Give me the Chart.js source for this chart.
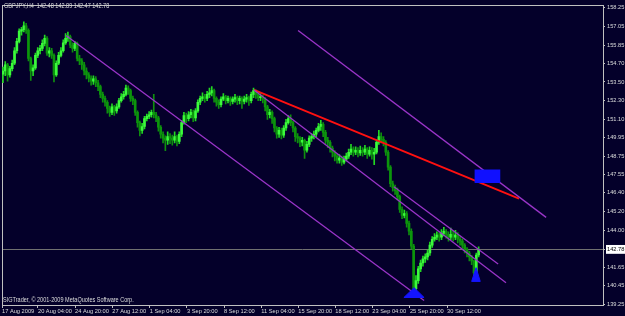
<!DOCTYPE html>
<html><head><meta charset="utf-8">
<script src="https://cdn.jsdelivr.net/npm/chart.js@4.4.1/dist/chart.umd.min.js"></script>
<style>
html,body{margin:0;padding:0;background:#04002a;overflow:hidden}
#wrap{position:relative;width:625px;height:316px}
canvas{display:block}
.t{position:absolute;color:#dcdcdc;font-size:6.6px;font-family:'Liberation Sans',sans-serif;white-space:pre;line-height:1;transform-origin:0 0;transform:scaleX(0.84)}
</style></head><body>
<div id="wrap"><canvas id="c" width="625" height="316"></canvas>
<div class="t" style="left:4px;top:3px">GBPJPY,H4  142.48 142.89 142.47 142.78</div>
<div class="t" style="left:3px;top:297px">SIGTrader, © 2001-2009 MetaQuotes Software Corp.</div>
</div>
<script>
// ---- data (H4 bars, GBPJPY) ----
const firstOpen = 154.0;
const closes = [
154.2,154.6,153.95,154.35,154.7,155.5,156.1,156.75,156.85,157.1,
156.8,155.0,154.2,154.4,155.2,155.5,155.65,155.97,156.3,155.35,
155.5,155.2,153.95,154.7,155.2,155.5,156.0,156.3,156.4,155.85,
155.65,155.97,155.0,154.85,154.6,154.2,153.95,153.75,153.55,153.7,
153.45,153.2,152.7,152.45,152.2,151.8,151.55,151.9,151.65,151.9,
152.3,152.55,152.7,153.1,152.95,152.45,152.3,151.55,150.9,150.4,
150.65,151.15,151.3,151.4,151.55,151.4,151.2,150.6,150.15,149.9,
149.77,150.0,149.9,149.77,150.0,149.7,150.15,150.9,151.35,151.15,
151.4,151.55,151.2,151.65,152.2,152.45,152.55,152.45,152.7,152.8,
152.95,152.45,152.2,152.05,152.4,152.55,152.3,152.45,152.25,152.4,
152.5,152.3,152.45,152.25,152.4,152.5,152.3,152.7,152.95,152.7,
152.5,152.55,152.4,151.9,151.4,151.55,151.15,150.55,150.15,150.4,
150.1,150.55,150.9,151.15,150.9,150.55,150.0,149.9,149.64,149.77,
149.13,149.5,149.9,150.0,150.15,150.4,150.65,150.78,150.27,149.77,
149.64,149.26,149.0,148.75,148.5,148.62,148.37,148.56,148.75,149.0,
149.2,149.0,149.13,148.95,149.13,149.0,149.2,148.88,149.13,148.88,
149.0,149.64,150.0,149.83,149.64,149.0,148.05,146.98,146.73,146.54,
146.16,145.34,144.96,145.08,144.45,143.94,142.99,140.27,140.78,141.53,
141.91,142.17,142.3,142.55,143.05,143.43,143.56,143.69,143.56,143.81,
143.94,143.75,143.56,143.75,143.56,143.69,143.43,143.31,143.05,142.8,
142.55,142.3,142.04,141.28,142.42,142.78];
const highs = [
154.45,154.8,154.7,154.5,154.9,155.7,156.3,156.9,157.0,157.35,
157.25,156.9,155.1,154.6,155.35,155.7,155.85,156.2,156.5,156.4,
155.7,155.65,155.3,154.85,155.4,155.7,156.2,156.6,156.7,156.5,
156.0,156.1,156.05,155.2,155.0,154.75,154.4,154.1,153.9,153.9,
153.85,153.6,153.3,152.85,152.6,152.3,151.95,152.1,152.0,152.1,
152.45,152.75,152.9,153.3,153.25,153.05,152.6,152.4,151.65,151.0,
150.85,151.3,151.45,151.6,151.7,152.7,151.55,151.3,150.7,150.3,
150.05,150.3,150.2,150.1,150.3,150.1,150.3,151.05,151.55,151.5,
151.6,151.75,151.7,151.8,152.35,152.6,152.8,152.7,152.9,153.1,
153.2,153.05,152.55,152.35,152.55,152.75,152.65,152.6,152.55,152.55,
152.7,152.6,152.6,152.55,152.6,152.7,152.6,152.85,153.1,153.0,
152.85,152.75,152.65,152.5,152.0,151.75,151.65,151.25,150.65,150.6,
150.55,150.7,151.1,151.35,151.4,151.0,150.65,150.2,150.0,149.95,
149.85,149.7,150.05,150.2,150.35,150.55,150.85,151.05,150.9,150.4,
149.95,149.75,149.4,149.1,148.9,148.85,148.75,148.75,148.95,149.2,
149.5,149.35,149.35,149.3,149.4,149.3,149.45,149.3,149.35,149.3,
149.25,149.8,150.4,150.25,150.0,149.75,149.1,148.15,147.15,146.9,
146.7,146.25,145.5,145.3,145.2,144.6,144.1,143.1,141.1,141.7,
142.1,142.35,142.5,142.75,143.25,143.6,143.8,143.9,143.85,144.05,
144.2,144.05,143.9,144.15,143.95,144.0,143.85,143.6,143.45,143.15,
142.9,142.65,142.4,142.1,142.55,142.95];
const lows = [
153.45,153.9,153.55,153.8,154.2,154.6,155.35,156.0,156.5,156.7,
156.6,154.85,153.6,153.9,154.3,155.05,155.3,155.5,155.8,155.2,
155.1,155.0,153.5,153.85,154.6,155.1,155.4,155.9,156.1,155.7,
155.4,155.5,154.85,154.6,154.3,153.95,153.7,153.5,153.3,153.35,
153.2,152.95,152.5,152.2,151.95,151.5,151.3,151.4,151.35,151.5,
151.8,152.2,152.4,152.6,152.7,152.25,152.05,151.35,150.6,150.05,
150.2,150.5,151.0,151.15,151.25,151.2,150.95,150.35,149.9,149.6,
149.1,149.5,149.55,149.45,149.6,149.4,149.55,150.0,150.8,150.9,
151.0,151.2,150.95,151.0,151.55,152.05,152.3,152.2,152.3,152.5,
152.6,152.2,151.95,151.8,151.9,152.3,152.1,152.15,152.0,152.1,
152.2,152.05,152.1,151.8,152.1,152.2,152.0,152.15,152.5,152.45,
152.3,152.3,152.15,151.65,151.1,151.2,150.85,150.3,149.9,149.95,
149.85,149.95,150.4,150.8,150.7,150.3,149.7,149.6,149.35,149.4,
148.6,149.0,149.35,149.7,149.85,150.0,150.3,150.4,150.0,149.5,
149.3,149.0,148.7,148.45,148.3,148.3,148.15,148.25,148.45,148.6,
148.85,148.75,148.85,148.7,148.8,148.75,148.85,148.6,148.75,148.55,
148.2,148.9,149.5,149.6,149.4,148.8,147.85,146.8,146.5,146.3,
145.95,145.15,144.75,144.8,144.2,143.7,142.8,140.0,140.1,140.6,
141.35,141.7,141.95,142.1,142.4,142.9,143.3,143.4,143.3,143.4,
143.65,143.5,143.3,143.4,143.3,143.4,143.2,143.05,142.85,142.55,
142.3,142.05,141.8,141.1,141.2,142.3];

// axis labels
const xTickPos = [-0.4,15.1,31.1,47.1,63.3,79.3,95.3,111.3,127.3,143.2,159.2,175.4,191.4];
const xTickLabels = ['17 Aug 2009','20 Aug 04:00','24 Aug 20:00','27 Aug 12:00','1 Sep 04:00','3 Sep 20:00','8 Sep 12:00','11 Sep 04:00','15 Sep 20:00','18 Sep 12:00','23 Sep 04:00','25 Sep 20:00','30 Sep 12:00'];
const yTicks = [158.25,157.05,155.85,154.70,153.50,152.30,151.10,149.95,148.75,147.55,146.40,145.20,144.00,142.78,141.65,140.45,139.25];
const currentPrice = 142.78;

// drawn objects (bar index, price)
const lowerChannelX = [27.2, 181.5],  lowerChannelY = [156.48, 139.51];
const upperChannelX = [127.2, 234.1], upperChannelY = [156.79, 144.83];
const midChannelAX = [108.2, 216.8],  midChannelAY = [152.99, 140.65];
const midChannelBX = [168.5, 213.4],  midChannelBY = [146.79, 141.85];
const redLineX = [108.2, 222.4],      redLineY = [152.99, 146.03];
const boxX = [203.4, 214.2],          boxY = [147.05, 147.87];
const arrow1X = [172.8, 177.2, 181.5, 172.8], arrow1Y = [139.70, 140.33, 139.70, 139.70];
const arrow2X = [202.0, 203.9, 205.7, 202.0], arrow2Y = [140.73, 141.61, 140.73, 140.73];

// ---- build ----
const opens = closes.map((c, i) => i === 0 ? firstOpen : closes[i - 1]);
const idx = closes.map((_, i) => i);
const isBull = i => closes[i] >= opens[i];
const wickData = idx.map(i => ({x: i, y: [lows[i], highs[i]]}));
const bodyData = idx.map(i => ({x: i, y: [opens[i], closes[i]]}));
const pts = (xs, ys) => xs.map((x, i) => ({x, y: ys[i]}));
const FONT = {family: "'Liberation Sans',sans-serif", size: 5.7};
const TXT = '#dcdcdc', AX = '#c0c0c0';
const AXES = {xAxisID: 'x', yAxisID: 'y'};
const lineDs = (xs, ys, color, w) => ({type: 'line', ...AXES, data: pts(xs, ys), borderColor: color, borderWidth: w,
  pointRadius: 0, fill: false, tension: 0, order: 2});
const triDs = (xs, ys) => ({type: 'line', ...AXES, data: pts(xs, ys), borderColor: '#1414ff', backgroundColor: '#1414ff',
  borderWidth: 1, pointRadius: 0, fill: 'shape', tension: 0, order: 1});
const isCur = ctx => ctx.tick && Math.abs(ctx.tick.value - currentPrice) < 1e-6;

new Chart(document.getElementById('c'), {
  type: 'bar',
  data: {datasets: [
    {type: 'bar', ...AXES, data: wickData, barThickness: 1, grouped: false, order: 11, borderWidth: 0,
     backgroundColor: c => isBull(c.dataIndex) ? '#22d822' : '#0f8f0f'},
    {type: 'bar', ...AXES, data: bodyData, barThickness: 2, minBarLength: 1, grouped: false, order: 10, borderWidth: 0,
     backgroundColor: c => isBull(c.dataIndex) ? '#3cfa3c' : '#0c950c'},
    lineDs(lowerChannelX, lowerChannelY, '#9a34c8', 1.3),
    lineDs(upperChannelX, upperChannelY, '#9a34c8', 1.3),
    lineDs(midChannelAX, midChannelAY, '#9a34c8', 1.3),
    lineDs(midChannelBX, midChannelBY, '#9a34c8', 1.3),
    lineDs(redLineX, redLineY, '#ff1010', 1.8),
    {type: 'bar', ...AXES, data: [{x: (boxX[0] + boxX[1]) / 2, y: boxY}], barThickness: 25, grouped: false, order: 0,
     backgroundColor: '#1010ff', borderWidth: 0},
    triDs(arrow1X, arrow1Y),
    triDs(arrow2X, arrow2Y)
  ]},
  options: {
    responsive: false, animation: false, events: [],
    layout: {padding: 0},
    plugins: {legend: {display: false}, tooltip: {enabled: false}},
    scales: {
      x: {type: 'linear', position: 'bottom', min: -0.4, max: 258.6, offset: false,
        afterBuildTicks: s => { s.ticks = xTickPos.map(v => ({value: v})); },
        afterFit: s => { s.height = 11; },
        ticks: {autoSkip: false, maxRotation: 0, minRotation: 0, align: 'start', padding: 0, color: TXT, font: FONT,
          callback: (v, i) => xTickLabels[i]},
        grid: {drawOnChartArea: false, drawTicks: true, tickLength: 3, color: AX, offset: false},
        border: {color: AX}},
      y: {type: 'linear', position: 'right', min: 139.22, max: 158.4, beginAtZero: false,
        afterBuildTicks: s => { s.ticks = yTicks.map(v => ({value: v})); },
        afterFit: s => { s.width = 22; },
        ticks: {padding: 2, crossAlign: 'near', font: FONT,
          color: c => isCur(c) ? '#000000' : TXT,
          showLabelBackdrop: c => isCur(c), backdropColor: '#ffffff',
          backdropPadding: {top: 1, bottom: 1, left: 1, right: 1},
          callback: v => v.toFixed(2)},
        grid: {drawOnChartArea: true, drawTicks: true, tickLength: 2,
          color: c => isCur(c) ? '#707070' : 'rgba(0,0,0,0)', tickColor: AX},
        border: {color: AX}},
      xTop: {type: 'linear', position: 'top', min: 0, max: 1,
        afterFit: s => { s.height = 2; },
        ticks: {display: false}, grid: {drawOnChartArea: false, drawTicks: false, color: AX}, border: {color: AX}},
      yLeft: {type: 'linear', position: 'left', min: 0, max: 1,
        afterFit: s => { s.width = 2; },
        ticks: {display: false}, grid: {drawOnChartArea: false, drawTicks: false, color: AX}, border: {color: AX}}
    }
  }
});
</script>
</body></html>
